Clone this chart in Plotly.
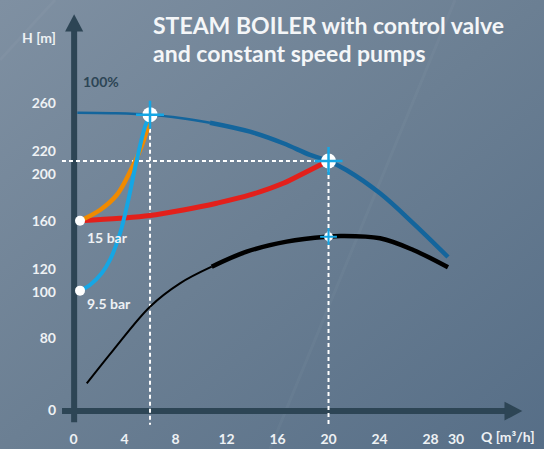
import base64
import plotly.graph_objects as go

# ---------------- data ----------------
title_lines = ["STEAM BOILER with control valve", "and constant speed pumps"]

# pump curve at 100% (H over Q)
pump_q_thin = [0.3, 3.0, 6.0, 8.5, 10.7]
pump_h_thin = [252.2, 251.8, 250.5, 247.5, 243.7]
pump_q_thick = [10.7, 13.84, 16.45, 18.55, 19.98, 21.4, 24.04, 26.65, 29.37]
pump_h_thick = [243.7, 236.1, 226.3, 216.4, 211.3, 203.7, 183.9, 158.5, 130.0]

# black curve
black_q_thin = [1.04, 3.12, 6.0, 8.35, 10.84]
black_h_thin = [23.0, 51.2, 87.9, 107.7, 121.8]
black_q_thick = [10.84, 13.58, 16.72, 19.86, 21.0, 24.04, 26.65, 29.37]
black_h_thick = [121.8, 134.5, 143.0, 147.2, 147.8, 145.8, 135.9, 121.3]

# system curve (red) 15 bar -> operating point at 20 m3/h
red_q = [0.51, 3.65, 6.0, 8.61, 11.23, 13.84, 16.45, 18.29, 19.96]
red_h = [160.7, 162.8, 165.1, 169.8, 175.5, 182.5, 192.4, 202.2, 211.3]

# orange curve 15 bar -> operating point at 6 m3/h
orange_q = [0.51, 2.08, 3.39, 4.43, 5.22, 5.87, 6.0]
orange_h = [160.7, 169.8, 182.5, 202.2, 220.6, 241.8, 250.5]

# cyan curve 9.5 bar -> operating point at 6 m3/h
cyan_q = [0.51, 1.29, 2.21, 2.86, 3.65, 4.3, 4.96, 5.61, 6.0]
cyan_h = [101.5, 106.3, 116.2, 127.5, 150.1, 178.3, 212.1, 240.3, 250.5]

# operating points
op_q = [6.0, 20.0]
op_h = [250.5, 211.3]
black_op_q = [20.0]
black_op_h = [147.2]
start_q = [0.51, 0.51]
start_h = [160.7, 101.5]
start_labels = ["15 bar", "9.5 bar"]

x_tick_vals = [0, 4, 8, 12, 16, 20, 24, 28, 30]
x_tick_text = ["0", "4", "8", "12", "16", "20", "24", "28", "30"]
y_tick_vals = [0, 61, 100, 120, 160, 200, 220, 260]
y_tick_text = ["0", "80", "100", "120", "160", "200", "220", "260"]

# ---------------- styling ----------------
W, H = 544, 449
FONT = "Lato"
TXT = "#eef1f4"
AXC = "#2d4555"
BLUE = "#14659c"
RED = "#e3201b"
ORANGE = "#f08a00"
CYAN = "#16a6e4"

XR = [-5.765, 36.9]
YR = [-32.6, 347.6]

svg = f"""<svg xmlns='http://www.w3.org/2000/svg' width='{W}' height='{H}' preserveAspectRatio='none'>
<defs><linearGradient id='g' x1='0' y1='0' x2='1' y2='1'>
<stop offset='0' stop-color='#7f90a2'/><stop offset='0.5' stop-color='#6b7f93'/><stop offset='1' stop-color='#566e87'/>
</linearGradient></defs>
<rect width='{W}' height='{H}' fill='url(#g)'/>
<line x1='270' y1='449' x2='455' y2='0' stroke='white' stroke-opacity='0.03' stroke-width='3'/>
<line x1='0' y1='60' x2='55' y2='0' stroke='white' stroke-opacity='0.03' stroke-width='3'/>
</svg>"""
bg = "data:image/svg+xml;base64," + base64.b64encode(svg.encode()).decode()

fig = go.Figure()


def line(q, h, color, width, dash=None, shape="spline"):
    fig.add_trace(go.Scatter(x=q, y=h, mode="lines",
                             line=dict(color=color, width=width, dash=dash, shape=shape, smoothing=1.0),
                             hoverinfo="skip", showlegend=False))


# dashed helper lines
line([XR[0] + 4.86, op_q[1]], [op_h[1], op_h[1]], "white", 2, dash="4px,3px", shape="linear")
line([op_q[0], op_q[0]], [op_h[0], -12], "white", 2, dash="4px,3px", shape="linear")
line([op_q[1], op_q[1]], [op_h[1], -12], "white", 2, dash="4px,3px", shape="linear")

# curves
line(black_q_thin, black_h_thin, "black", 2)
line(black_q_thick, black_h_thick, "black", 4.5)
line(pump_q_thin, pump_h_thin, BLUE, 2.5)
line(pump_q_thick, pump_h_thick, BLUE, 4.5)
line(red_q, red_h, RED, 5)
line(orange_q, orange_h, ORANGE, 4.5)
line(cyan_q, cyan_h, CYAN, 4)

# start dots
fig.add_trace(go.Scatter(x=start_q, y=start_h, mode="markers",
                         marker=dict(color="white", size=10, line=dict(width=0)),
                         hoverinfo="skip", showlegend=False))
# operating points: white discs with cross
fig.add_trace(go.Scatter(x=op_q, y=op_h, mode="markers",
                         marker=dict(color="white", size=15, line=dict(width=0)),
                         hoverinfo="skip", showlegend=False))
fig.add_trace(go.Scatter(x=op_q, y=op_h, mode="markers",
                         marker=dict(symbol="cross-thin", size=20, line=dict(color=CYAN, width=2.5)),
                         hoverinfo="skip", showlegend=False))
fig.add_trace(go.Scatter(x=black_op_q, y=black_op_h, mode="markers",
                         marker=dict(color="white", size=9, line=dict(width=0)),
                         hoverinfo="skip", showlegend=False))
fig.add_trace(go.Scatter(x=black_op_q, y=black_op_h, mode="markers",
                         marker=dict(symbol="cross-thin", size=12, line=dict(color=CYAN, width=2)),
                         hoverinfo="skip", showlegend=False))

# axis lines with arrows (data coordinates)
shapes = [
    dict(type="line", xref="x", yref="y", x0=0.05, x1=0.05, y0=-10, y1=322,
         line=dict(color=AXC, width=6), layer="below"),
    dict(type="path", xref="x", yref="y",
         path="M -0.66,321 L 0.76,321 L 0.05,335.5 Z", fillcolor=AXC, line=dict(width=0), layer="below"),
    dict(type="line", xref="x", yref="y", x0=-0.9, x1=34.0, y0=-0.5, y1=-0.5,
         line=dict(color=AXC, width=6), layer="below"),
    dict(type="path", xref="x", yref="y",
         path="M 33.8,7.5 L 33.8,-8.5 L 35.2,-0.5 Z", fillcolor=AXC, line=dict(width=0), layer="below"),
]

ann = [
    dict(x=6.04, y=326.5, text=title_lines[0], font=dict(size=23, color="#f4f6f8", family=FONT, weight="bold")),
    dict(x=6.04, y=302.8, text=title_lines[1], font=dict(size=23, color="#f4f6f8", family=FONT, weight="bold")),
    dict(x=-2.7, y=315.5, text="H [m]", xanchor="center",
         font=dict(size=14, color=TXT, family=FONT, weight="bold")),
    dict(x=0.6, y=278.2, text="100%", font=dict(size=14, color=AXC, family=FONT, weight="bold")),
    dict(x=0.9, y=start_h[0] - 14, text=start_labels[0], font=dict(size=14, color=TXT, family=FONT, weight="bold")),
    dict(x=0.9, y=start_h[1] - 10.5, text=start_labels[1], font=dict(size=14, color=TXT, family=FONT, weight="bold")),
    dict(x=34.1, y=-22.4, text="Q [m³/h]", xanchor="center",
         font=dict(size=14, color=TXT, family=FONT, weight="bold")),
]
for a in ann:
    a.setdefault("xanchor", "left")
    a.update(xref="x", yref="y", yanchor="middle", showarrow=False)

fig.update_layout(
    width=W, height=H,
    margin=dict(l=0, r=0, t=0, b=0),
    paper_bgcolor="#6b7f93",
    plot_bgcolor="rgba(0,0,0,0)",
    images=[dict(source=bg, xref="paper", yref="paper", x=0, y=1, sizex=1, sizey=1,
                 sizing="stretch", layer="below", xanchor="left", yanchor="top")],
    shapes=shapes,
    annotations=ann,
    showlegend=False,
    hovermode=False,
    xaxis=dict(range=XR, domain=[0, 1], anchor="free", position=1 - 411 / H,
               showgrid=False, zeroline=False, showline=False, ticks="",
               tickvals=x_tick_vals, ticktext=x_tick_text, ticklabelstandoff=18,
               tickfont=dict(size=14, color=TXT, family=FONT, weight="bold")),
    yaxis=dict(range=YR, domain=[0, 1], anchor="free", position=74 / W,
               showgrid=False, zeroline=False, showline=False, ticks="",
               tickvals=y_tick_vals, ticktext=y_tick_text, ticklabelstandoff=18,
               tickfont=dict(size=14, color=TXT, family=FONT, weight="bold")),
)

fig.write_html("out.html", config={"displayModeBar": False, "staticPlot": True},
               post_script="document.body.style.margin='0';document.body.style.overflow='hidden';")
